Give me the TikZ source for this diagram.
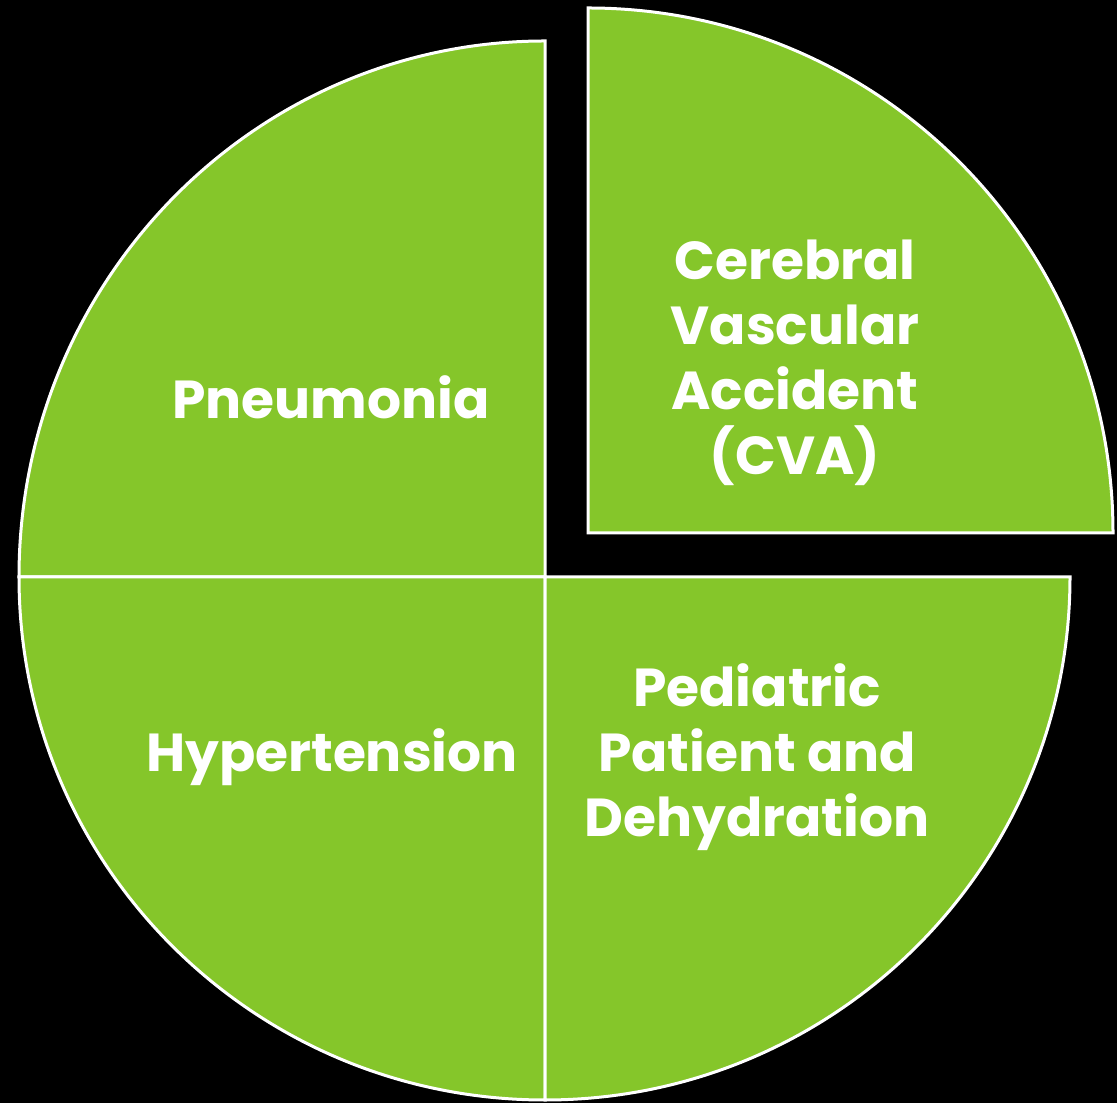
\documentclass[tikz,border=0pt]{standalone}
\usepackage{fontspec}
\setmainfont{Poppins}
\definecolor{piegreen}{RGB}{133,198,42}
\tikzset{
  slice/.style={fill=piegreen, draw=white, line width=3pt, line join=miter},
  lbl/.style={text=white, font=\fontsize{53.5}{65}\selectfont\bfseries, align=center, inner sep=0pt}
}
\begin{document}
\begin{tikzpicture}[x=1pt,y=1pt]
\fill[black] (0,0) rectangle (1117,1103);
\useasboundingbox (0,0) rectangle (1117,1103);
% top-left
\draw[slice] (545,526) -- (545,1062) arc[start angle=90, end angle=180, x radius=526pt, y radius=536pt] -- cycle;
% bottom-left
\draw[slice] (545,526) -- (19,526) arc[start angle=180, end angle=270, x radius=526pt, y radius=523pt] -- cycle;
% bottom-right
\draw[slice] (545,526) -- (545,3) arc[start angle=270, end angle=360, x radius=525pt, y radius=523pt] -- cycle;
% exploded top-right
\draw[slice] (588,570) -- (1113,570) arc[start angle=0, end angle=90, radius=525pt] -- cycle;
\node[lbl] (pn) at (331,706) {Pneumonia};
\node[lbl] (cva) at (795,740) {Cerebral\\Vascular\\Accident\\(CVA)};
\node[lbl] (hy) at (332,346) {Hypertension};
\node[lbl] (pe) at (757,346) {Pediatric\\Patient and\\Dehydration};
\end{tikzpicture}
\end{document}
